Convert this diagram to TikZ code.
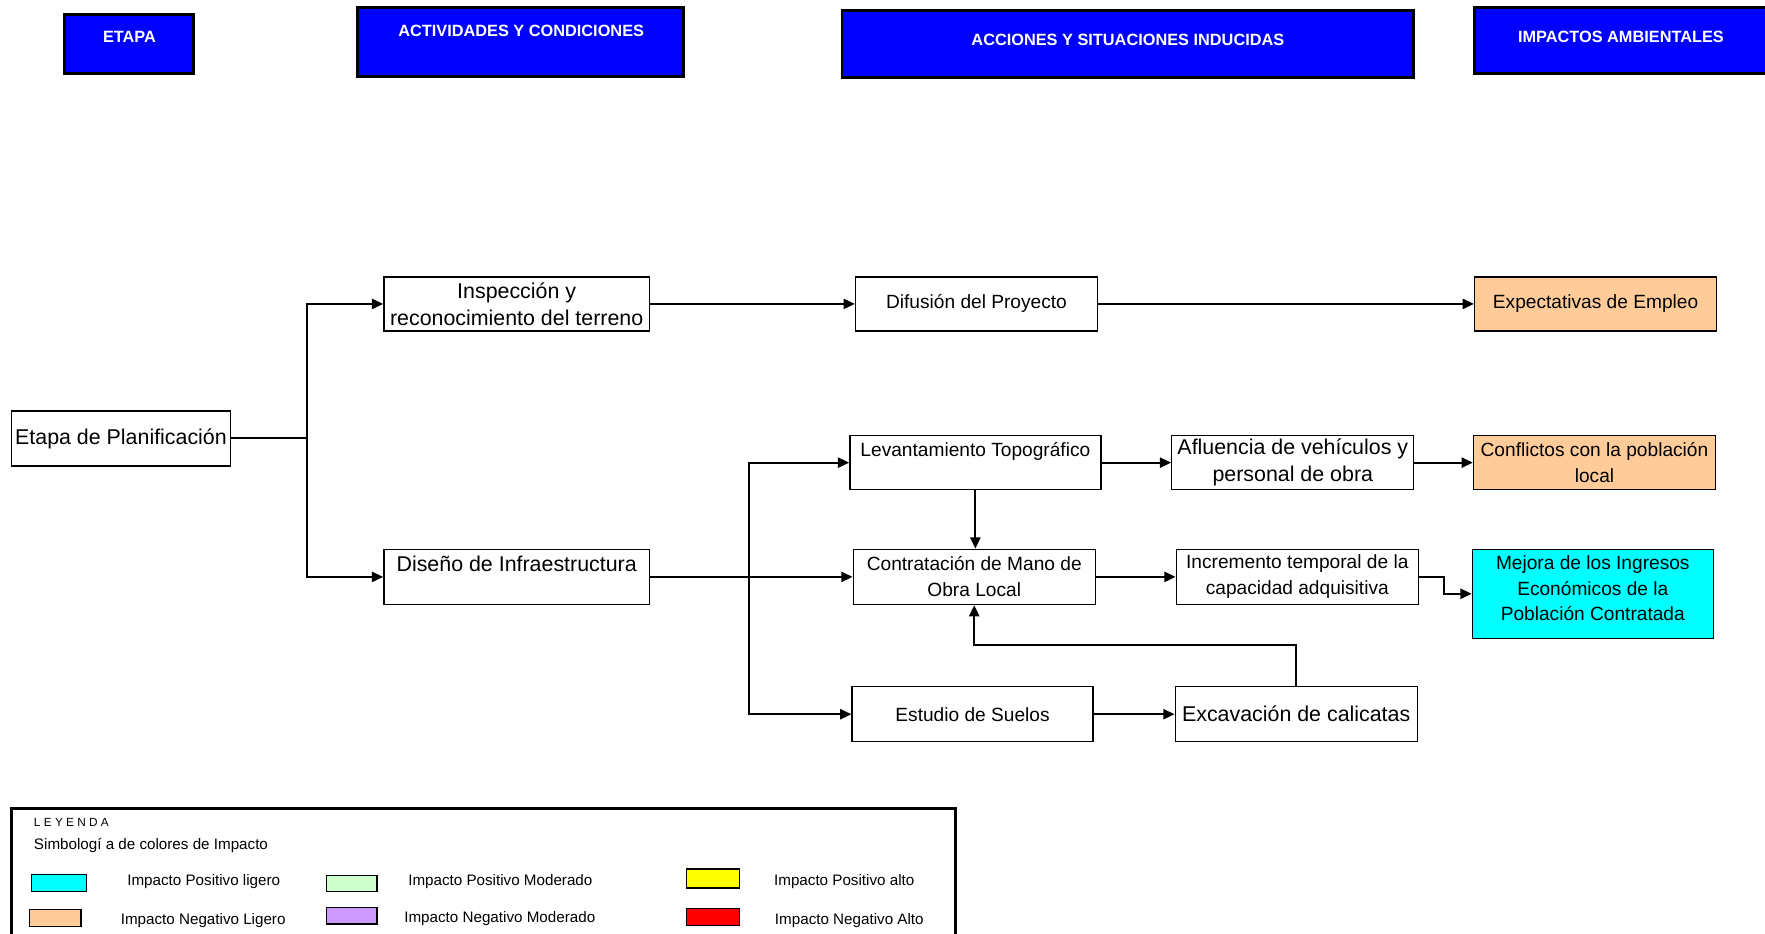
\documentclass[tikz,border=0pt]{standalone}
\usepackage{fontspec}
\setmainfont{Liberation Sans}
\usetikzlibrary{arrows.meta,calc}
\definecolor{hdrblue}{HTML}{0000FF}
\definecolor{peach}{HTML}{FFCC99}
\definecolor{cyanimp}{HTML}{00FFFF}
\definecolor{lgreen}{HTML}{CCFFCC}
\definecolor{lpurple}{HTML}{CC99FF}
\definecolor{yelimp}{HTML}{FFFF00}
\definecolor{redimp}{HTML}{FF0000}
\begin{document}
\begin{tikzpicture}[x=1pt,y=-1pt,
  hdrbox/.style={draw=black,fill=hdrblue,line width=2.6pt},
  hdrtext/.style={text=white,font=\fontsize{14.5}{17}\selectfont\bfseries,inner sep=0pt},
  box/.style={draw=black,line width=1.2pt,fill=white,align=center,inner sep=0pt,
     minimum height=49pt,font=\fontsize{17}{23}\selectfont},
  bigbox/.style={box,font=\fontsize{19}{24}\selectfont},
  link/.style={line width=1.8pt},
  arr/.style={line width=1.8pt,-{Triangle[length=10pt,width=9pt]}},
  swatch/.style={draw=black,line width=1.2pt},
  legtext/.style={font=\fontsize{13.5}{16}\selectfont,inner sep=0pt}
]
\useasboundingbox (0,0) rectangle (1568,829);

% headers
\draw[hdrbox] (57,13) rectangle (172,65);
\node[hdrtext] (h1) at (115,33) {ETAPA};
\draw[hdrbox] (318,7) rectangle (607,68);
\node[hdrtext] (h2) at (463,27) {ACTIVIDADES Y CONDICIONES};
\draw[hdrbox] (748,9) rectangle (1256,69);
\node[hdrtext] (h3) at (1002,35) {ACCIONES Y SITUACIONES INDUCIDAS};
\draw[hdrbox] (1310,7) rectangle (1575,65);
\node[hdrtext] (h4) at (1440,33) {IMPACTOS AMBIENTALES};

% nodes
\node[bigbox,minimum width=195pt] (etapa) at (107.5,389.5) {Etapa de Planificación};
\node[bigbox,minimum width=236pt,minimum height=48pt] (insp) at (459,270) {Inspección y\\reconocimiento del terreno};
\node[bigbox,minimum width=236pt] (dis) at (459,512.5) {Diseño de Infraestructura\\\mbox{}};
\node[box,minimum width=215pt,minimum height=48pt] (dif) at (867.5,270) {Difusión del Proyecto};
\node[box,minimum width=215pt,minimum height=48pt,fill=peach] (exp) at (1417.5,270) {Expectativas de Empleo};
\node[box,minimum width=223pt,minimum height=48pt] (lev) at (866.5,411) {Levantamiento Topográfico\\\mbox{}};
\node[bigbox,minimum width=215pt,minimum height=48pt] (afl) at (1148.5,411) {Afluencia de vehículos y\\personal de obra};
\node[box,minimum width=215pt,minimum height=48pt,fill=peach] (con) at (1416.5,411) {Conflictos con la población\\local};
\node[box,minimum width=215pt] (ctr) at (865.5,512.5) {Contratación de Mano de\\Obra Local};
\node[box,minimum width=215pt] (inc) at (1152.5,512.5) {Incremento temporal de la\\capacidad adquisitiva};
\node[box,minimum width=214pt,minimum height=79pt,fill=cyanimp] (mej) at (1415,527.5) {Mejora de los Ingresos\\Económicos de la\\Población Contratada\\[-13pt]\mbox{}};
\node[box,minimum width=214pt] (est) at (864,634.5) {Estudio de Suelos};
\node[bigbox,minimum width=215pt] (exc) at (1151.5,634.5) {Excavación de calicatas};

% connectors
\coordinate (b1) at (273,389.5);
\coordinate (b2) at (665,512.5);
\draw[link] (etapa.east) -- (b1);
\draw[arr] (b1) |- (insp.west);
\draw[arr] (b1) |- (dis.west);
\draw[arr] (insp.east) -- (dif.west);
\draw[arr] (dif.east) -- (exp.west);
\draw[arr] (dis.east) -- (ctr.west);
\draw[arr] (b2) |- (lev.west);
\draw[arr] (b2) |- (est.west);
\draw[arr] (lev.south) -- (lev.south |- ctr.north);
\draw[arr] (lev.east) -- (afl.west);
\draw[arr] (afl.east) -- (con.west);
\draw[arr] (ctr.east) -- (inc.west);
\draw[arr] (inc.east) -- ++(22,0) |- (mej.west);
\draw[arr] (est.east) -- (exc.west);
\draw[arr] (exc.north) -- ++(0,-36) -| (ctr.south);

% legend
\draw[line width=3pt] (10,718) rectangle (849,845);
\node[anchor=west,inner sep=0pt,font=\fontsize{10.5}{12}\selectfont] (leg) at (30,731) {L E Y E N D A};
\node[anchor=west,inner sep=0pt,font=\fontsize{13.5}{16}\selectfont] (simb) at (30,751) {Simbologí a de colores de Impacto};
\draw[swatch,fill=cyanimp] (28,777) rectangle (77,792);
\node[legtext] (l1) at (181,783) {Impacto Positivo ligero};
\draw[swatch,fill=lgreen] (290,778) rectangle (335,792);
\node[legtext] (l2) at (444.5,783) {Impacto Positivo Moderado};
\draw[swatch,fill=yelimp] (610,772) rectangle (657,789);
\node[legtext] (l3) at (750,783) {Impacto Positivo alto};
\draw[swatch,fill=peach] (26,808) rectangle (72,823);
\node[legtext] (l4) at (180.5,818) {Impacto Negativo Ligero};
\draw[swatch,fill=lpurple] (290,806) rectangle (335,821);
\node[legtext] (l5) at (444,816) {Impacto Negativo Moderado};
\draw[swatch,fill=redimp] (610,807) rectangle (657,822);
\node[legtext] (l6) at (754.5,818) {Impacto Negativo Alto};
\end{tikzpicture}
\end{document}
